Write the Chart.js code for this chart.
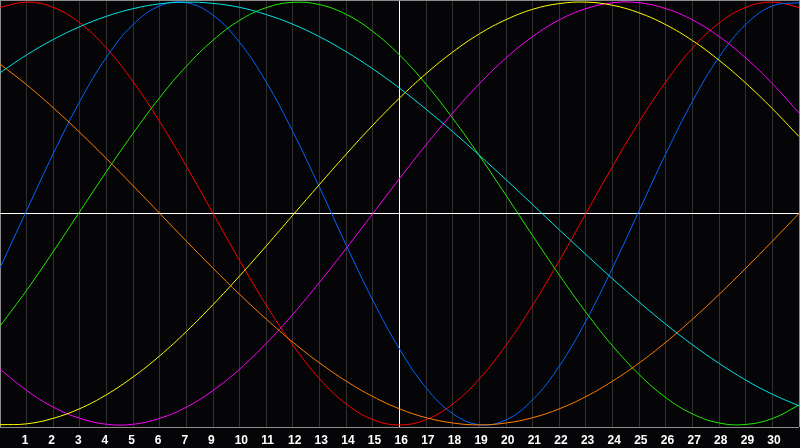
<!DOCTYPE html>
<html>
<head>
<meta charset="utf-8">
<script src="https://cdn.jsdelivr.net/npm/chart.js@4"></script>
<style>
  html, body { margin: 0; padding: 0; background: #050508; }
  canvas { display: block; }
</style>
</head>
<body>
<canvas id="bio-canvas" width="800" height="448"></canvas>
<script>
const days = [0, 1, 2, 3, 4, 5, 6, 7, 8, 9, 10, 11, 12, 13, 14, 15, 16, 17, 18, 19, 20, 21, 22, 23, 24, 25, 26, 27, 28, 29, 30];

// tick labels under each day line (the original skips "8")
const dayLabels = ['', '1', '2', '3', '4', '5', '6', '7', '9', '10', '11', '12', '13', '14', '15', '16', '17', '18', '19', '20', '21', '22', '23', '24', '25', '26', '27', '28', '29', '30', ''];

const red = [0.975, 1, 0.975, 0.901, 0.782, 0.623, 0.434, 0.223, 0, -0.223, -0.434, -0.623, -0.782, -0.901, -0.975, -1, -0.975, -0.901, -0.782, -0.623, -0.434, -0.223, 0, 0.223, 0.434, 0.623, 0.782, 0.901, 0.975, 1, 0.975];
const blue = [-0.257, 0.014, 0.283, 0.531, 0.74, 0.894, 0.982, 0.997, 0.938, 0.809, 0.621, 0.386, 0.123, -0.15, -0.411, -0.641, -0.825, -0.947, -0.999, -0.976, -0.881, -0.722, -0.508, -0.257, 0.014, 0.283, 0.531, 0.74, 0.894, 0.982, 0.997];
const green = [-0.533, -0.363, -0.18, 0.01, 0.199, 0.38, 0.549, 0.697, 0.82, 0.914, 0.974, 0.999, 0.988, 0.942, 0.861, 0.75, 0.611, 0.45, 0.273, 0.086, -0.105, -0.291, -0.467, -0.626, -0.762, -0.871, -0.948, -0.991, -0.998, -0.97, -0.906];
const cyan = [0.666, 0.75, 0.823, 0.884, 0.933, 0.969, 0.992, 1, 0.994, 0.975, 0.941, 0.895, 0.836, 0.765, 0.684, 0.593, 0.493, 0.387, 0.275, 0.16, 0.042, -0.077, -0.194, -0.309, -0.419, -0.524, -0.621, -0.709, -0.788, -0.855, -0.91];
const yellow = [-0.999, -0.995, -0.969, -0.923, -0.857, -0.773, -0.673, -0.558, -0.431, -0.295, -0.153, -0.007, 0.138, 0.281, 0.418, 0.546, 0.662, 0.764, 0.85, 0.917, 0.966, 0.993, 1, 0.985, 0.949, 0.893, 0.818, 0.725, 0.617, 0.496, 0.364];
const magenta = [-0.736, -0.837, -0.916, -0.969, -0.997, -0.997, -0.969, -0.916, -0.837, -0.736, -0.614, -0.476, -0.325, -0.165, 0, 0.165, 0.325, 0.476, 0.614, 0.736, 0.837, 0.916, 0.969, 0.997, 0.997, 0.969, 0.916, 0.837, 0.736, 0.614, 0.476];
const orange = [0.707, 0.609, 0.5, 0.383, 0.259, 0.131, 0, -0.131, -0.259, -0.383, -0.5, -0.609, -0.707, -0.793, -0.866, -0.924, -0.966, -0.991, -1, -0.991, -0.966, -0.924, -0.866, -0.793, -0.707, -0.609, -0.5, -0.383, -0.259, -0.131, 0];

const Y_LIMIT = 1.01;
const MID_DAY = 15;
const AXIS_HEIGHT = 21;

const series = [
  { values: orange, color: '#ff8000' },
  { values: cyan, color: '#00e5e5' },
  { values: yellow, color: '#ffff00' },
  { values: magenta, color: '#ff00ff' },
  { values: green, color: '#22ee00' },
  { values: blue, color: '#0066ff' },
  { values: red, color: '#ff0000' },
];

const datasets = series.map(({ values, color }) => ({
  data: values.map((v, i) => ({ x: days[i], y: v })),
  borderColor: color,
  borderWidth: 1,
  pointRadius: 0,
  tension: 0.4,
  fill: false,
}));

new Chart(document.getElementById('bio-canvas').getContext('2d'), {
  type: 'line',
  data: { datasets },
  options: {
    responsive: false,
    animation: false,
    events: [],
    layout: { padding: { top: 0, left: 0, right: 1, bottom: 0 } },
    plugins: { legend: { display: false }, tooltip: { enabled: false } },
    scales: {
      x: {
        type: 'linear',
        min: days[0],
        max: days[days.length - 1],
        border: { display: false },
        afterFit: (scale) => {
          scale.paddingLeft = 0;
          scale.paddingRight = 0;
          scale.height = AXIS_HEIGHT;
        },
        grid: {
          drawTicks: false,
          lineWidth: 1,
          color: ({ tick }) => {
            if (!tick) return '#303030';
            if (tick.value === MID_DAY) return '#ffffff';
            if (tick.value === days[0] || tick.value === days[days.length - 1]) return '#8c8c8c';
            return '#303030';
          },
        },
        ticks: {
          stepSize: 1,
          autoSkip: false,
          maxRotation: 0,
          align: 'start',
          labelOffset: -5,
          padding: 6,
          color: '#ffffff',
          font: { family: 'Liberation Sans', size: 12, weight: 'bold' },
          callback: (value) => dayLabels[value] ?? '',
        },
      },
      y: {
        min: -Y_LIMIT,
        max: Y_LIMIT,
        border: { display: false },
        afterFit: (scale) => {
          scale.width = 0;
          scale.paddingTop = 0;
          scale.paddingBottom = 0;
        },
        afterBuildTicks: (scale) => {
          scale.ticks = [{ value: -Y_LIMIT }, { value: 0 }, { value: Y_LIMIT }];
        },
        grid: {
          drawTicks: false,
          lineWidth: 1,
          color: ({ tick }) => (tick && tick.value === 0 ? '#ffffff' : '#8c8c8c'),
        },
        ticks: { display: false },
      },
    },
  },
});
</script>
</body>
</html>
